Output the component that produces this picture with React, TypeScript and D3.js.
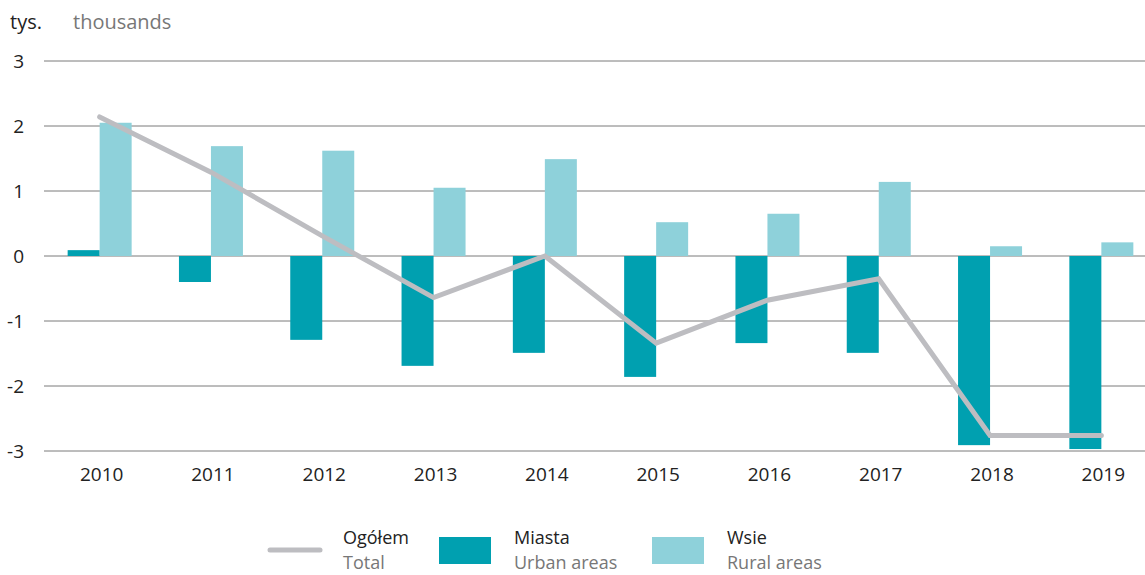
import React from "react";
import * as d3 from "d3";

const years = ["2010", "2011", "2012", "2013", "2014", "2015", "2016", "2017", "2018", "2019"];
const miasta = [0.09, -0.4, -1.29, -1.69, -1.49, -1.86, -1.34, -1.49, -2.91, -2.97];
const wsie = [2.05, 1.69, 1.62, 1.05, 1.49, 0.52, 0.65, 1.14, 0.15, 0.21];
const ogolem = [2.14, 1.29, 0.31, -0.64, 0.0, -1.34, -0.68, -0.35, -2.76, -2.76];
const yTicks = [3, 2, 1, 0, -1, -2, -3];

const W = 1145;
const H = 575;
const FONT = "'Open Sans', sans-serif";
const C_URBAN = "#00A0B0";
const C_RURAL = "#8ED1DA";
const C_TOTAL = "#BDBDC1";

export default function App() {
  const x = d3.scaleBand<string>().domain(years).range([44, 1157]).padding(0);
  const y = d3.scaleLinear().domain([-3, 3]).range([451, 61]);
  const bw = 32;
  const cx = (yr: string) => (x(yr) as number) + x.bandwidth() / 2;
  const line = d3
    .line<number>()
    .x((_, i) => cx(years[i]))
    .y((d) => y(d));

  return (
    <svg width={W} height={H} style={{ position: "absolute", left: 0, top: 0, background: "#fff" }}>
      <text x={10} y={29} fontFamily={FONT} fontSize={20} fill="#222">tys.</text>
      <text x={73} y={29} fontFamily={FONT} fontSize={20} fill="#777">thousands</text>
      {yTicks.map((t) => (
        <g key={t}>
          <line x1={44} x2={W} y1={y(t)} y2={y(t)} stroke="#7a7a7a" strokeWidth={1} />
          <text x={24} y={y(t) + 7} textAnchor="end" fontFamily={FONT} fontSize={19} fill="#222">
            {t < 0 ? "-" + Math.abs(t) : t}
          </text>
        </g>
      ))}
      {years.map((yr, i) => (
        <g key={yr}>
          <rect
            x={cx(yr) - bw}
            width={bw}
            y={Math.min(y(miasta[i]), y(0))}
            height={Math.abs(y(miasta[i]) - y(0))}
            fill={C_URBAN}
          />
          <rect
            x={cx(yr)}
            width={bw}
            y={Math.min(y(wsie[i]), y(0))}
            height={Math.abs(y(wsie[i]) - y(0))}
            fill={C_RURAL}
          />
          <text x={cx(yr) + 2} y={481} textAnchor="middle" fontFamily={FONT} fontSize={19} fill="#222">
            {yr}
          </text>
        </g>
      ))}
      <path d={line(ogolem) || ""} fill="none" stroke={C_TOTAL} strokeWidth={5} strokeLinecap="round" strokeLinejoin="miter" />

      <line x1={270} x2={320} y1={550} y2={550} stroke={C_TOTAL} strokeWidth={5} strokeLinecap="round" />
      <text x={343} y={544} fontFamily={FONT} fontSize={18} fill="#222">Ogółem</text>
      <text x={343} y={569} fontFamily={FONT} fontSize={18} fill="#777">Total</text>
      <rect x={439} y={537} width={52} height={27} fill={C_URBAN} />
      <text x={514} y={544} fontFamily={FONT} fontSize={18} fill="#222">Miasta</text>
      <text x={514} y={569} fontFamily={FONT} fontSize={18} fill="#777">Urban areas</text>
      <rect x={652} y={537} width={52} height={27} fill={C_RURAL} />
      <text x={727} y={544} fontFamily={FONT} fontSize={18} fill="#222">Wsie</text>
      <text x={727} y={569} fontFamily={FONT} fontSize={18} fill="#777">Rural areas</text>
    </svg>
  );
}
